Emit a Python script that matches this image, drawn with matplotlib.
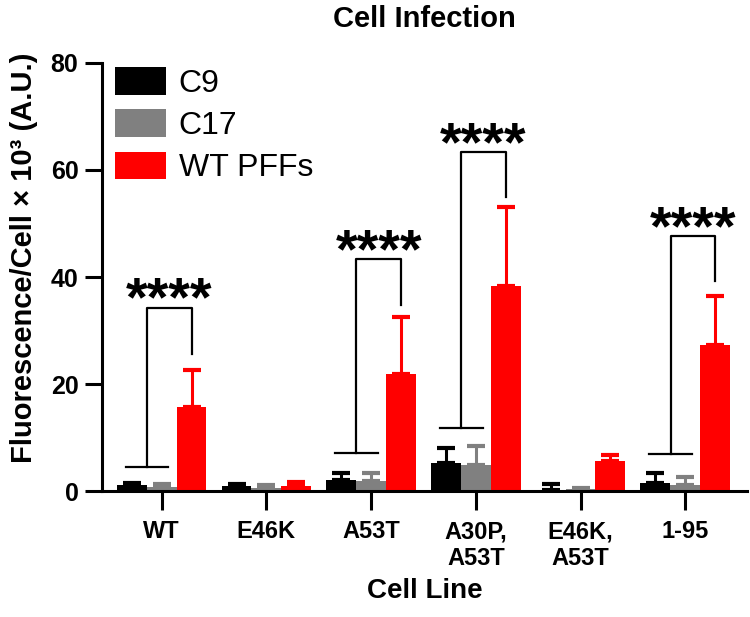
import matplotlib
matplotlib.use('Agg')
import matplotlib.pyplot as plt
import numpy as np

plt.rcParams['font.family'] = ['Liberation Sans', 'DejaVu Sans']

# data (units: fluorescence/cell x 10^3)
cell_lines = ['WT', 'E46K', 'A53T', 'A30P,\nA53T', 'E46K,\nA53T', '1-95']
c9 = [1.1, 1.0, 2.0, 5.3, 0.3, 1.6]
c9_err = [0.5, 0.4, 1.3, 2.8, 1.1, 1.8]
c17 = [0.8, 0.6, 1.8, 4.9, 0.4, 1.2]
c17_err = [0.6, 0.5, 1.5, 3.5, 0.2, 1.4]
pff = [15.7, 0.9, 21.9, 38.4, 5.6, 27.3]
pff_err = [6.9, 0.8, 10.6, 14.6, 1.1, 9.1]

# significance brackets: group index, low bar height, bracket top, right leg end
sig_groups = [0, 2, 3, 5]
sig_low = [4.6, 7.2, 11.8, 7.0]
sig_top = [34.3, 43.4, 63.4, 47.7]
sig_end = [25.7, 34.8, 54.9, 39.3]

x = np.arange(len(cell_lines))
w = 0.285

fig = plt.figure(figsize=(7.5, 6.17), dpi=100)
ax = fig.add_axes([0.136, 0.204, 0.86, 0.694])

series = [(c9, c9_err, 'black', 'C9', -w),
          (c17, c17_err, '#808080', 'C17', 0),
          (pff, pff_err, '#ff0000', 'WT PFFs', w)]
for vals, errs, col, lab, off in series:
    ax.bar(x + off, vals, w, color=col, label=lab, zorder=2)
    ax.errorbar(x + off, vals, yerr=[np.zeros(len(vals)), errs], fmt='none',
                ecolor=col, elinewidth=2.2, capsize=6.5, capthick=3, zorder=1)

for g, lo, top, end in zip(sig_groups, sig_low, sig_top, sig_end):
    ax.plot([g - 0.345, g + 0.065], [lo, lo], color='black', lw=1.6)
    ax.plot([g - 0.14, g - 0.14, g + w, g + w], [lo, top, top, end],
            color='black', lw=1.6)
    ax.text((g - 0.14 + g + w) / 2, top - 1.5, '****', ha='center',
            va='baseline', fontsize=40, fontweight='bold')

ax.set_xlim(-0.57, 5.59)
ax.set_ylim(0, 80)
ax.set_yticks([0, 20, 40, 60, 80])
ax.set_xticks(x)
ax.set_xticklabels(cell_lines, fontsize=17, fontweight='bold')
for t in ax.get_yticklabels():
    t.set_fontsize(18)
    t.set_fontweight('bold')
ax.tick_params(axis='y', length=12, width=2.2, pad=5)
ax.tick_params(axis='x', length=14, width=2.2, pad=7)
ax.spines['top'].set_visible(False)
ax.spines['right'].set_visible(False)
ax.spines['left'].set_linewidth(2.2)
ax.spines['bottom'].set_linewidth(2.2)

ax.set_ylabel('Fluorescence/Cell × 10³ (A.U.)', fontsize=21, fontweight='bold')
ax.yaxis.set_label_coords(-0.10, 0.545)
ax.set_xlabel('Cell Line', fontsize=20, fontweight='bold', labelpad=6)
ax.set_title('Cell Infection', fontsize=21, fontweight='bold', pad=26)

ax.legend(loc='upper left', bbox_to_anchor=(0.02, 0.99), frameon=False,
          fontsize=23, handlelength=1.6, handleheight=0.94, labelspacing=0.33,
          handletextpad=0.4, borderpad=0, borderaxespad=0)

fig.savefig('out.png', dpi=100)
